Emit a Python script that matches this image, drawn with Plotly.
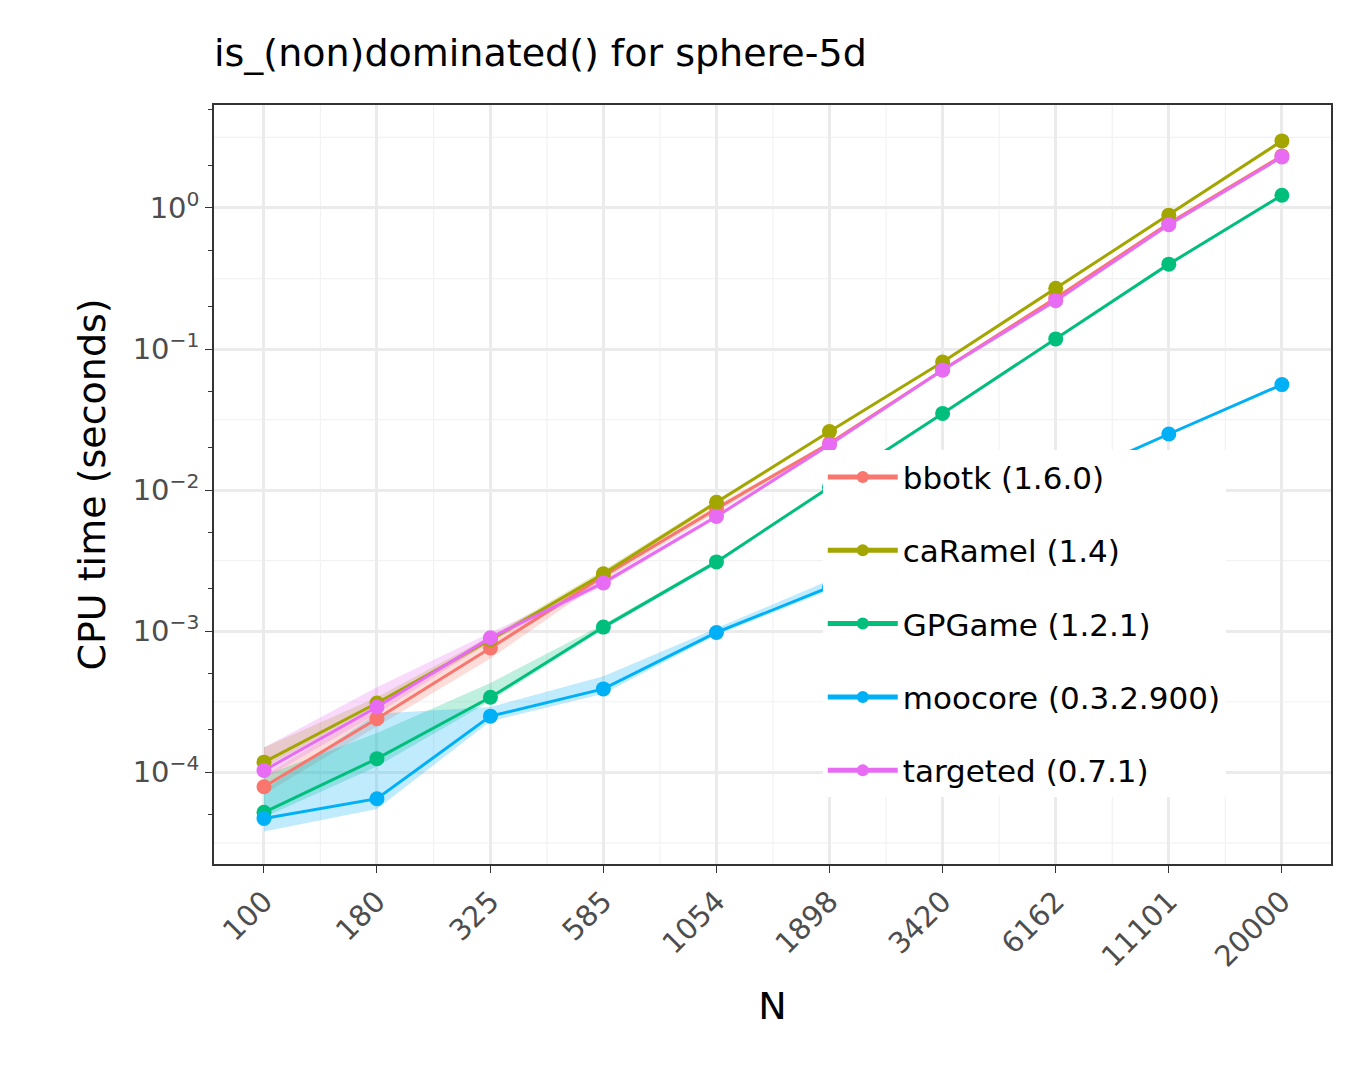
import plotly.graph_objects as go
import numpy as np

N = [100, 180, 325, 585, 1054, 1898, 3420, 6162, 11101, 20000]
names = ["bbotk (1.6.0)", "caRamel (1.4)", "GPGame (1.2.1)", "moocore (0.3.2.900)", "targeted (0.7.1)"]
colors = ["#F8766D", "#A3A500", "#00BF7D", "#00B0F6", "#E76BF3"]
bbotk = [7.9e-5, 2.4e-4, 7.6e-4, 2.45e-3, 7.4e-3, 0.0215, 0.071, 0.23, 0.78, 2.34]
caramel = [1.18e-4, 3.1e-4, 8.7e-4, 2.55e-3, 8.2e-3, 0.026, 0.081, 0.27, 0.89, 2.99]
gpgame = [5.2e-5, 1.25e-4, 3.4e-4, 1.07e-3, 3.1e-3, 0.0105, 0.035, 0.118, 0.40, 1.23]
moocore = [4.7e-5, 6.5e-5, 2.5e-4, 3.9e-4, 9.8e-4, 2.05e-3, 4.8e-3, 0.011, 0.025, 0.056]
targeted = [1.03e-4, 2.9e-4, 9.0e-4, 2.2e-3, 6.5e-3, 0.021, 0.071, 0.22, 0.76, 2.3]
lo_bbotk = [7.0e-5, 2.1e-4, 6.4e-4, 2.3e-3, 7.0e-3, 0.021, 0.070, 0.228, 0.77, 2.3]
hi_bbotk = [9.5e-5, 2.9e-4, 9.0e-4, 2.6e-3, 7.8e-3, 0.022, 0.072, 0.232, 0.79, 2.38]
lo_caramel = [1.08e-4, 2.9e-4, 8.3e-4, 2.45e-3, 7.9e-3, 0.0255, 0.080, 0.267, 0.88, 2.95]
hi_caramel = [1.5e-4, 3.4e-4, 9.2e-4, 2.7e-3, 8.5e-3, 0.0265, 0.082, 0.273, 0.90, 3.03]
lo_gpgame = [4.8e-5, 1.1e-4, 3.2e-4, 1.03e-3, 3.0e-3, 0.0103, 0.0345, 0.117, 0.395, 1.21]
hi_gpgame = [9.5e-5, 1.9e-4, 4.3e-4, 1.12e-3, 3.2e-3, 0.0107, 0.0355, 0.119, 0.405, 1.25]
lo_moocore = [3.8e-5, 5.5e-5, 2.3e-4, 3.6e-4, 9.4e-4, 1.95e-3, 4.6e-3, 0.0107, 0.0245, 0.055]
hi_moocore = [7.5e-5, 2.6e-4, 2.9e-4, 4.8e-4, 1.05e-3, 2.3e-3, 5.2e-3, 0.0115, 0.0255, 0.057]
lo_targeted = [9.0e-5, 2.6e-4, 8.5e-4, 2.1e-3, 6.3e-3, 0.0205, 0.070, 0.218, 0.75, 2.27]
hi_targeted = [1.5e-4, 4.0e-4, 9.8e-4, 2.3e-3, 6.8e-3, 0.0215, 0.072, 0.222, 0.77, 2.33]

series = [bbotk, caramel, gpgame, moocore, targeted]
los = [lo_bbotk, lo_caramel, lo_gpgame, lo_moocore, lo_targeted]
his = [hi_bbotk, hi_caramel, hi_gpgame, hi_moocore, hi_targeted]

def rgba(h, a):
    return f"rgba({int(h[1:3],16)},{int(h[3:5],16)},{int(h[5:7],16)},{a})"

fig = go.Figure()
for nm, c, lo, hi in zip(names, colors, los, his):
    fig.add_trace(go.Scatter(x=N, y=lo, mode="lines", line=dict(width=0), showlegend=False, hoverinfo="skip"))
    fig.add_trace(go.Scatter(x=N, y=hi, mode="lines", line=dict(width=0), fill="tonexty",
                             fillcolor=rgba(c, 0.25), showlegend=False, hoverinfo="skip"))
for i, (nm, c, ys) in enumerate(zip(names, colors, series)):
    fig.add_trace(go.Scatter(x=N, y=ys, mode="lines+markers", name=nm, legendgroup=f"g{i}",
                             line=dict(color=c, width=3), marker=dict(color=c, size=15)))

shapes = []
lx = np.log10(N)
for i in range(len(N) - 1):
    m = (lx[i] + lx[i+1]) / 2
    shapes.append(dict(type="line", xref="x", yref="paper", x0=10**m, x1=10**m, y0=0, y1=1,
                       line=dict(color="#F2F2F2", width=1.2), layer="below"))
for e in [0.5, -0.5, -1.5, -2.5, -3.5, -4.5]:
    shapes.append(dict(type="line", xref="paper", yref="y", x0=0, x1=1, y0=10**e, y1=10**e,
                       line=dict(color="#F2F2F2", width=1.2), layer="below"))

yt = [1, 0.1, 0.01, 0.001, 0.0001]
ytt = ["10<sup>0</sup>", "10<sup>−1</sup>", "10<sup>−2</sup>", "10<sup>−3</sup>", "10<sup>−4</sup>"]

fig.update_layout(
    width=1350, height=1080, paper_bgcolor="white", plot_bgcolor="white",
    margin=dict(l=206, r=27, t=97, b=224, autoexpand=False),
    font=dict(family="DejaVu Sans", color="black"),
    title=dict(text="is_(non)dominated() for sphere-5d", x=206/1350, xanchor="left",
               y=1-45/1080, yanchor="middle", font=dict(size=38)),
    shapes=shapes,
    legend=dict(x=0.545, y=0.545, xanchor="left", yanchor="top", bgcolor="white",
                font=dict(size=31), itemwidth=70, tracegroupgap=30, traceorder="grouped",
                itemsizing="constant"),
    xaxis=dict(type="log", range=[1.887, 4.412], tickvals=N, ticktext=[str(n) for n in N],
               tickangle=-45, tickfont=dict(size=29, color="#4D4D4D"), showgrid=True,
               gridcolor="#EBEBEB", gridwidth=2.5, ticks="outside", ticklen=7, tickcolor="#333",
               showline=True, mirror=True, linecolor="#333", linewidth=1.5, zeroline=False,
               title=dict(text="N", font=dict(size=38), standoff=20)),
    yaxis=dict(type="log", range=[-4.65, 0.73], tickvals=yt, ticktext=ytt,
               tickfont=dict(size=29, color="#4D4D4D"), showgrid=True, gridcolor="#EBEBEB", gridwidth=2.5,
               ticks="outside", ticklen=7, tickcolor="#333",
               minor=dict(ticks="outside", ticklen=4, tickcolor="#333", showgrid=False),
               showline=True, mirror=True, linecolor="#333", linewidth=1.5, zeroline=False,
               title=dict(text="CPU time (seconds)", font=dict(size=38), standoff=15)),
)
fig.write_html("out.html")
